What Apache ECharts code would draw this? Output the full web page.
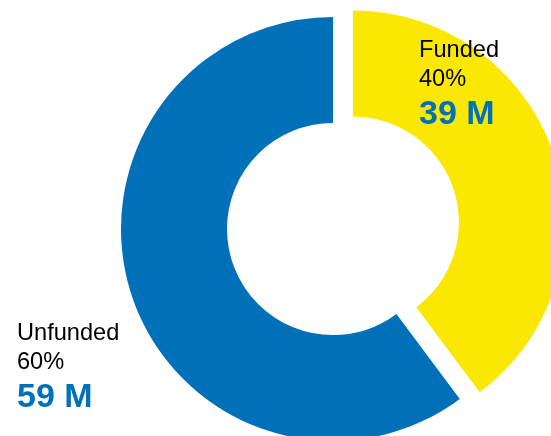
<!DOCTYPE html>
<html>
<head>
<meta charset="utf-8">
<script src="https://cdn.jsdelivr.net/npm/echarts@6/dist/echarts.min.js"></script>
<style>
html,body{margin:0;padding:0;background:#fff;}
#chart{width:551px;height:436px;}
</style>
</head>
<body>
<div id="chart"></div>
<script>
const categories = ['Funded', 'Unfunded'];
const values = [39, 59];
const amountLabels = ['39 M', '59 M'];
const colors = ['#FAE800', '#0071B9'];

const total = values.reduce((a, b) => a + b, 0);
const pct = values.map(v => Math.round(v / total * 100) + '%');

const labelPos = [[419, 56], [17, 339]];

const chart = echarts.init(document.getElementById('chart'));

const graphics = [];
categories.forEach((c, i) => {
  const [x, y] = labelPos[i];
  graphics.push({ type: 'text', left: x, top: y - 17.5, silent: true, z: 100,
    style: { text: c, font: '23.6px "Liberation Sans", Arial, sans-serif', fill: '#000' } });
  graphics.push({ type: 'text', left: x, top: y + 11.5, silent: true, z: 100,
    style: { text: pct[i], font: '23.6px "Liberation Sans", Arial, sans-serif', fill: '#000' } });
  graphics.push({ type: 'text', left: x, top: y + 42, silent: true, z: 100,
    style: { text: amountLabels[i], font: 'bold 34px "Liberation Sans", Arial, sans-serif', fill: '#0071B9' } });
});

chart.setOption({
  animation: false,
  series: [{
    type: 'pie',
    z: 1,
    center: [333, 229],
    radius: [106, 212],
    startAngle: 90,
    clockwise: true,
    selectedMode: 'single',
    selectedOffset: 21,
    label: { show: false },
    labelLine: { show: false },
    emphasis: { disabled: true },
    data: categories.map((c, i) => ({
      name: c, value: values[i], selected: i === 0,
      itemStyle: { color: colors[i] }
    }))
  }],
  graphic: graphics
});
</script>
</body>
</html>
